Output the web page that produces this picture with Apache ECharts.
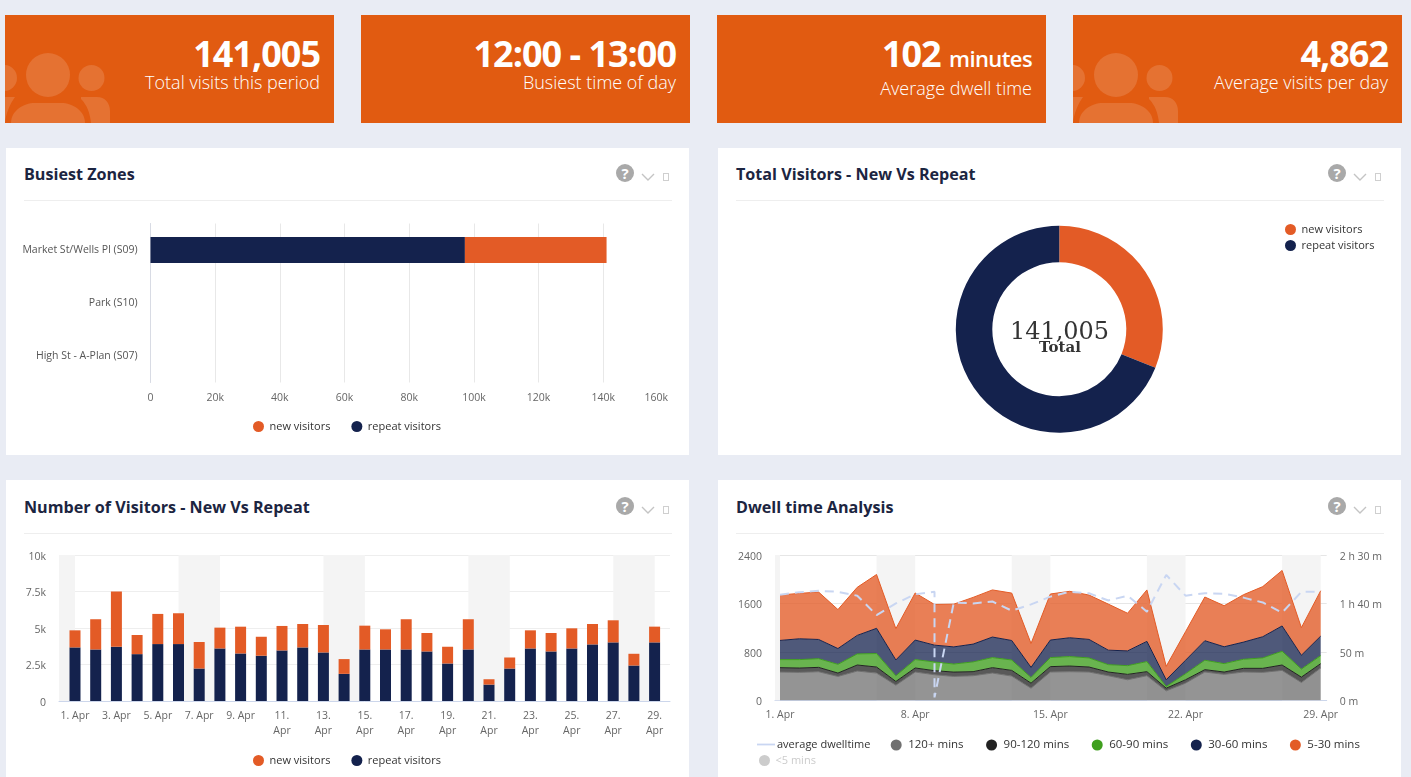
<!DOCTYPE html>
<html><head><meta charset="utf-8">
<script src="https://cdn.jsdelivr.net/npm/echarts@6/dist/echarts.min.js"></script>
<style>
html,body{margin:0;padding:0;width:1411px;height:777px;overflow:hidden;background:#e9ecf4;font-family:"Open Sans",sans-serif}
.kpi{position:absolute;top:15px;width:329px;height:108px;background:#e15b11;color:#fff;overflow:hidden}
.kpi svg{position:absolute;left:0;top:0}
.kpi .big{position:absolute;right:14px;top:14px;font-size:36px;line-height:50px;font-weight:700;letter-spacing:-1px;white-space:nowrap}
.kpi .big small{font-size:22px;letter-spacing:-.6px;font-weight:600}
.kpi .sub{position:absolute;right:14px;font-size:18px;line-height:28px;font-weight:300;white-space:nowrap}
.panel{position:absolute;width:683px;background:#fff;overflow:hidden}
.panel h3{position:absolute;left:18px;margin:0;font-size:16.15px;line-height:24px;font-weight:700;color:#1c2541;white-space:nowrap}
.panel .rule{position:absolute;left:18px;width:648px;height:1px;background:#eeeeee}
.panel .chart{position:absolute;left:0;top:0;width:683px}
.ico{position:absolute;left:610px}
</style></head><body>
<div id="root"></div>
<script>
// ---- data ----
const kpiValues = ['141,005', '12:00 - 13:00', '102', '4,862'];
const kpiLabels = ['Total visits this period', 'Busiest time of day', 'Average dwell time', 'Average visits per day'];
const panelTitles = ['Busiest Zones', 'Total Visitors - New Vs Repeat', 'Number of Visitors - New Vs Repeat', 'Dwell time Analysis'];

const zones = ['Market St/Wells Pl (S09)', 'Park (S10)', 'High St - A-Plan (S07)'];
const zoneRepeat = [97205, 0, 0];
const zoneNew = [43800, 0, 0];

const totalNew = 43800;
const totalRepeat = 97205;
const totalLabel = '141,005';

const dayNames = ['1. Apr','2. Apr','3. Apr','4. Apr','5. Apr','6. Apr','7. Apr','8. Apr','9. Apr','10. Apr','11. Apr','12. Apr','13. Apr','14. Apr','15. Apr','16. Apr','17. Apr','18. Apr','19. Apr','20. Apr','21. Apr','22. Apr','23. Apr','24. Apr','25. Apr','26. Apr','27. Apr','28. Apr','29. Apr'];
const dailyRepeat = [3670,3530,3716,3210,3900,3900,2225,3600,3257,3100,3464,3670,3326,1860,3530,3530,3530,3395,2570,3530,1124,2225,3600,3395,3600,3877,4015,2430,4015];
const dailyNew = [1170,2070,3784,1310,2065,2110,1815,1425,1833,1300,1676,1605,1881,1010,1630,1380,2070,1262,1146,2070,366,755,1240,1262,1378,1399,1513,804,1078];

const dwell120 = [467,461,472,394,483,450,250,467,422,394,406,450,400,200,467,472,467,406,339,406,156,283,467,428,467,461,494,294,533];
const dwell90 = [72,72,72,56,100,100,61,67,67,72,67,89,94,83,89,94,83,61,89,67,44,56,39,39,61,67,89,89,72];
const dwell60 = [133,139,144,144,183,222,94,139,144,133,161,167,172,94,150,156,150,122,144,167,28,100,156,139,150,172,228,133,133];
const dwell30 = [317,344,317,261,306,417,261,322,278,283,294,339,322,167,289,311,306,239,244,333,111,222,322,278,283,350,417,228,322];
const dwell5 = [750,750,783,644,794,889,517,778,672,706,772,778,783,394,761,767,733,761,622,850,222,472,722,678,783,828,917,456,750];
const avgDayIndex = [0,1,2,3,4,5,6,7,8,8,9,10,11,12,13,14,15,16,17,18,19,20,21,22,23,24,25,26,27,28];
const avgMinutes = [109,111.5,113,112,108,88,100,109.5,112,3,101,100,102,92.5,99,107,112,110.5,103,108,91.5,129.5,108,110.5,110,106,101,90.5,112,112];
const weekendBands = [[null,0],[5,7],[12,14],[19,21],[26,28]];

// ---- colours ----
const ORANGE='#e35b26', NAVY='#14224d', AX='#666666', GRID='#eeeeee', AXLINE='#ccd6eb', BAND='#f4f4f4', LEG='#333333';
const FONT='"Open Sans",sans-serif';

// ---- page furniture ----
const root=document.getElementById('root');
const people='<svg width="130" height="108" viewBox="0 0 130 108"><g fill="#fff" fill-opacity=".14"><ellipse cx="43" cy="60" rx="22" ry="22"/><ellipse cx="86.5" cy="63" rx="13" ry="13"/><ellipse cx="-1" cy="63" rx="13" ry="13"/><path d="M6 108C6 96 18 88 30 88H56C68 88 80 96 80 108Z"/><path d="M76 82H92C100 82 105 88 105 96V108H86C85 98 82 90 76 84Z"/><path d="M-10 82H10C5 89 1 98 0 108H-10Z"/></g></svg>';
[5,361,717,1073].forEach((x,i)=>{
  const d=document.createElement('div');d.className='kpi';d.style.left=x+'px';
  const big=i===2?kpiValues[i]+' <small>minutes</small>':kpiValues[i];
  d.innerHTML=((i===0||i===3)?people:'')+'<div class="big">'+big+'</div><div class="sub" style="top:'+(i===2?59:53)+'px">'+kpiLabels[i]+'</div>';
  root.appendChild(d);
});
const panelRects=[[6,148,307,0],[718,148,307,0],[6,480,297,1],[718,480,297,1]];
const chartDivs=panelRects.map((r,i)=>{
  const p=document.createElement('div');p.className='panel';
  p.style.cssText='left:'+r[0]+'px;top:'+r[1]+'px;height:'+r[2]+'px';
  const o=r[3];
  p.innerHTML='<h3 style="top:'+(14+o)+'px">'+panelTitles[i]+'</h3><div class="rule" style="top:'+(52+o)+'px"></div>'+
   '<svg class="ico" style="top:'+(16+o)+'px" width="60" height="20" viewBox="0 0 60 20"><circle cx="9" cy="9" r="9" fill="#a9a9a9"/><text x="9" y="14.5" text-anchor="middle" font-family="Open Sans" font-weight="700" font-size="15" fill="#fff">?</text><path d="M26 10l6 6 6-6" fill="none" stroke="#c4c4c4" stroke-width="1.4"/><rect x="47.5" y="9.5" width="5" height="7" fill="none" stroke="#cfcfcf"/></svg>'+
   '<div class="chart" style="height:'+r[2]+'px"></div>';
  root.appendChild(p);
  return p.querySelector('.chart');
});
const tickK=v=>v===0?'0':(v/1000)+'k';
const legendBase={icon:'circle',itemWidth:18,itemHeight:11,itemGap:7,textStyle:{color:LEG,fontSize:11,fontFamily:FONT,padding:[0,0,0,-3]},inactiveColor:'#cccccc',selectedMode:false};
const axisText={color:AX,fontSize:10.5,fontFamily:FONT};
const hiddenAxis={show:false,axisLine:{show:false},axisTick:{show:false},splitLine:{show:false}};
const bandArea=()=>({silent:true,itemStyle:{color:BAND},data:weekendBands.map(b=>[{xAxis:b[0]===null?'min':b[0]},{xAxis:b[1]}])});
const yLabel=extra=>Object.assign({},axisText,{margin:13,verticalAlign:'top',lineHeight:4},extra);

// ---- Busiest Zones ----
echarts.init(chartDivs[0]).setOption({animation:false,
  legend:Object.assign({},legendBase,{data:['new visitors','repeat visitors'],left:242,top:268,itemGap:21}),
  grid:{left:144.5,width:517.5,top:75.5,height:159},
  xAxis:{type:'value',min:0,max:160000,interval:20000,axisLabel:Object.assign({},axisText,{formatter:tickK,margin:10,alignMaxLabel:'right'}),axisLine:{show:false},axisTick:{show:false},splitLine:{showMaxLine:false,lineStyle:{color:'#e8e8e8'}}},
  yAxis:{type:'category',inverse:true,data:zones,axisLabel:Object.assign({},axisText,{fontSize:10.5,margin:13,color:'#555',padding:[4,0,0,0]}),axisLine:{lineStyle:{color:'#d8dbe4'}},axisTick:{show:false}},
  series:[
   {name:'repeat visitors',type:'bar',stack:'a',barWidth:26,data:zoneRepeat,itemStyle:{color:NAVY}},
   {name:'new visitors',type:'bar',stack:'a',barWidth:26,data:zoneNew,itemStyle:{color:ORANGE}}
  ]});

// ---- Total donut ----
echarts.init(chartDivs[1]).setOption({animation:false,
  legend:Object.assign({},legendBase,{orient:'vertical',left:562,top:71,itemGap:5,data:['new visitors','repeat visitors']}),
  series:[{type:'pie',center:[341.3,181.3],radius:[67,103.5],startAngle:90,clockwise:true,label:{show:false},labelLine:{show:false},silent:true,
    data:[{name:'new visitors',value:totalNew,itemStyle:{color:ORANGE}},{name:'repeat visitors',value:totalRepeat,itemStyle:{color:NAVY}}]}],
  graphic:[
   {type:'text',style:{text:totalLabel,x:341.5,y:185,textAlign:'center',textVerticalAlign:'middle',font:'24px "DejaVu Serif",serif',fill:'#333'}},
   {type:'text',style:{text:'Total',x:342,y:200,textAlign:'center',textVerticalAlign:'middle',font:'bold 15px "DejaVu Serif",serif',fill:'#333'}}
  ]});

// ---- Number of visitors: wide grid holds rules, bands and y labels; inner grid holds the bars ----
echarts.init(chartDivs[2]).setOption({animation:false,
  legend:Object.assign({},legendBase,{data:['new visitors','repeat visitors'],left:242,top:270,itemGap:21}),
  grid:[{left:53,width:611,top:75,height:146},{left:58.65,width:600.3,top:75,height:146}],
  xAxis:[
   {gridIndex:0,type:'value',min:-0.773,max:28.74,axisLabel:{show:false},axisLine:{show:true,onZero:false,lineStyle:{color:AXLINE}},axisTick:{show:false},splitLine:{show:false}},
   {gridIndex:1,type:'category',data:dayNames,axisLine:{show:false},axisTick:{show:false},
    axisLabel:Object.assign({},axisText,{interval:1,margin:8,lineHeight:15,verticalAlign:'top',hideOverlap:false,formatter:(s,i)=>i>=10?s.replace(' ','\n'):s})}
  ],
  yAxis:[
   {gridIndex:0,type:'value',min:0,max:10000,interval:2500,axisLabel:yLabel({formatter:tickK}),axisLine:{show:false},axisTick:{show:false},splitLine:{lineStyle:{color:GRID}}},
   Object.assign({gridIndex:1,type:'value',min:0,max:10000},hiddenAxis)
  ],
  series:[
   {name:'bands',type:'line',xAxisIndex:0,yAxisIndex:0,data:[],markArea:bandArea()},
   {name:'repeat visitors',type:'bar',xAxisIndex:1,yAxisIndex:1,stack:'a',barWidth:11,data:dailyRepeat,itemStyle:{color:NAVY}},
   {name:'new visitors',type:'bar',xAxisIndex:1,yAxisIndex:1,stack:'a',barWidth:11,data:dailyNew,itemStyle:{color:ORANGE}}
  ]});

// ---- Dwell time ----
const hm=v=>{const h=Math.floor(v/60),m=v%60;return h>0?h+' h '+m+' m':m+' m';};
const area=(name,color,data,opa)=>({name,type:'line',xAxisIndex:1,yAxisIndex:2,stack:'d',symbol:'none',z:3,data:data,
  lineStyle:{color:color,width:1},itemStyle:{color:color},areaStyle:{color:color,opacity:opa}});
const wideText={color:LEG,fontSize:11.5,fontFamily:FONT,padding:[0,0,0,-2]};
echarts.init(chartDivs[3]).setOption({animation:false,
  legend:[
   Object.assign({},legendBase,{left:34,top:254,data:[{name:'average dwelltime',icon:'path://M2 5H16V6.4H2Z'}]}),
   Object.assign({},legendBase,{left:167.7,top:254,itemGap:22.5,textStyle:wideText,data:['120+ mins','90-120 mins','60-90 mins','30-60 mins','5-30 mins']}),
   Object.assign({},legendBase,{left:36,top:270,data:['<5 mins'],selected:{'<5 mins':false}})
  ],
  grid:[{left:57,width:551.7,top:75,height:145.3},{left:62,width:540.7,top:75,height:145.3}],
  xAxis:[
   {gridIndex:0,type:'value',min:-0.26,max:28.31,axisLabel:{show:false},axisLine:{show:true,onZero:false,lineStyle:{color:AXLINE}},axisTick:{show:false},splitLine:{show:false}},
   {gridIndex:1,type:'category',boundaryGap:false,data:dayNames,axisLine:{show:false},axisTick:{show:false},
    axisLabel:Object.assign({},axisText,{interval:6,margin:9,hideOverlap:false})}
  ],
  yAxis:[
   {gridIndex:0,type:'value',min:0,max:2400,interval:800,axisLabel:yLabel({formatter:v=>String(v)}),axisLine:{show:false},axisTick:{show:false},splitLine:{lineStyle:{color:'#e6e6e6'}}},
   {gridIndex:0,type:'value',min:0,max:150,interval:50,position:'right',axisLabel:yLabel({formatter:hm}),axisLine:{show:false},axisTick:{show:false},splitLine:{show:false}},
   Object.assign({gridIndex:1,type:'value',min:0,max:2400},hiddenAxis)
  ],
  series:[
   {name:'bands',type:'line',xAxisIndex:0,yAxisIndex:0,data:[],markArea:bandArea()},
   area('120+ mins','#707070',dwell120,.75),
   area('90-120 mins','#222222',dwell90,.75),
   area('60-90 mins','#3f9f1e',dwell60,.78),
   area('30-60 mins',NAVY,dwell30,.75),
   area('5-30 mins',ORANGE,dwell5,.78),
   {name:'<5 mins',type:'line',xAxisIndex:1,yAxisIndex:2,stack:'d',symbol:'none',data:[],itemStyle:{color:'#cccccc'}},
   {name:'average dwelltime',type:'line',xAxisIndex:0,yAxisIndex:1,symbol:'none',z:5,data:avgDayIndex.map((d,i)=>[d,avgMinutes[i]]),
    lineStyle:{color:'#c9d6f2',width:2,type:[9,6]},itemStyle:{color:'#c9d6f2'}}
  ]});
</script>
</body></html>
